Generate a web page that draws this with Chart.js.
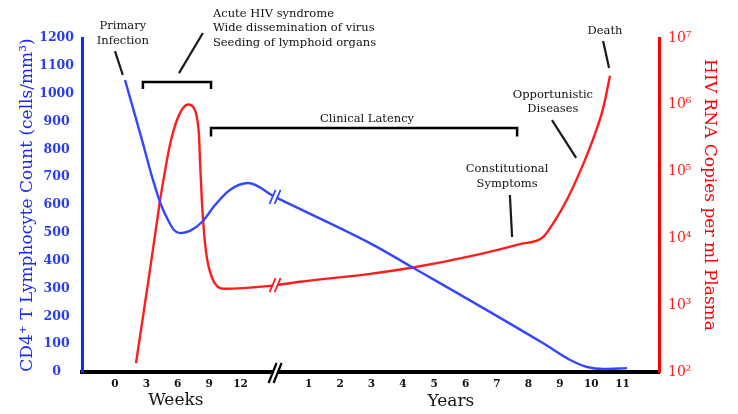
<!DOCTYPE html>
<html>
<head>
<meta charset="utf-8">
<script src="https://cdn.jsdelivr.net/npm/chart.js@4.4.1/dist/chart.umd.min.js"></script>
<style>
  html, body { margin: 0; padding: 0; background: #fff; }
  #wrap { width: 738px; height: 414px; }
</style>
</head>
<body>
<div id="wrap"><canvas id="chart"></canvas></div>
<script>
// Colours
const COLORS = {
  cd4: '#3347ff',
  cd4Axis: '#1428ff',
  cd4Text: '#2a3cf0',
  rna: '#ff1c1c',
  rnaAxis: '#ff0000',
  ink: '#111111',
};
const SERIF = '"DejaVu Serif", "Liberation Serif", serif';

// X axis: weeks first (position = week / 3), then years after the break
const weekTicks = [0, 3, 6, 9, 12];
const yearTicks = [1, 2, 3, 4, 5, 6, 7, 8, 9, 10, 11];
const YEAR_OFFSET = 5.17;   // year N sits at N + YEAR_OFFSET
const BREAK_AT = 5.1;       // where the "//" break sits
const xTickPos = weekTicks.map(w => w / 3).concat(yearTicks.map(y => y + YEAR_OFFSET));
const xTickLabels = weekTicks.map(String).concat(yearTicks.map(String));

// Right axis ticks (log)
const rnaTicks = [1e2, 1e3, 1e4, 1e5, 1e6, 1e7];
const rnaTickLabels = ['10²', '10³', '10⁴', '10⁵', '10⁶', '10⁷'];
const RNA_TITLE = 'HIV RNA Copies per ml Plasma';

// CD4+ T cell count (cells/mm3), x in axis positions
const cd4X = [0.32, 0.86, 1.21, 1.47, 1.69, 1.88, 2.07, 2.39, 2.77, 3.19, 3.66, 4.24, 5.10, 8.12, 9.40, 13.63, 14.50, 15.04, 15.55, 16.31];
const cd4Y = [1049, 834, 690, 600, 546, 510, 499, 507, 539, 600, 654, 679, 629, 463, 381, 104, 43, 18, 11, 14];

// HIV RNA copies per ml plasma
const rnaX = [0.67, 1.05, 1.34, 1.43, 1.59, 1.75, 2.01, 2.33, 2.52, 2.61, 2.68, 2.71, 2.77, 2.84, 2.93, 3.12, 3.44, 4.94, 5.89, 8.12, 9.40, 11.63, 12.90, 13.63, 14.02, 14.40, 14.81, 15.23, 15.55, 15.77];
const rnaY = [136, 2090, 18000, 35600, 99000, 250000, 650000, 1010000, 885000, 650000, 328000, 140000, 35600, 11900, 5080, 2400, 1760, 1950, 2240, 2950, 3610, 5830, 8200, 10400, 18600, 38200, 99000, 307000, 885000, 2730000];

// Annotation layout (x in axis positions, y in CD4 units)
const noteTexts = [
  ['Primary', 0.25, 1243, 'center'],
  ['Infection', 0.25, 1189, 'center'],
  ['Acute HIV syndrome', 3.12, 1286, 'left'],
  ['Wide dissemination of virus', 3.12, 1236, 'left'],
  ['Seeding of lymphoid organs', 3.12, 1182, 'left'],
  ['Clinical Latency', 8.03, 909, 'center'],
  ['Death', 15.61, 1225, 'center'],
  ['Opportunistic', 13.95, 995, 'center'],
  ['Diseases', 13.95, 945, 'center'],
  ['Constitutional', 12.49, 729, 'center'],
  ['Symptoms', 12.49, 675, 'center'],
];
const noteLeaders = [
  [0, 1153, 0.25, 1067],
  [2.80, 1218, 2.04, 1074],
  [15.55, 1189, 15.74, 1092],
  [13.92, 905, 14.69, 769],
  [12.58, 636, 12.65, 485],
];
const noteBrackets = [
  [0.89, 3.06, 1042, 1017],
  [3.06, 12.81, 877, 846],
];
const unitLabels = [['Weeks', 1.94, -101], ['Years', 10.70, -108]];

// y pixel of a drawn line at a given x pixel
function yOnLine(meta, px) {
  const pts = meta.data;
  for (let i = 1; i < pts.length; i++) {
    if (pts[i].x >= px) {
      const a = pts[i - 1], b = pts[i];
      const t = (px - a.x) / (b.x - a.x);
      return a.y + t * (b.y - a.y);
    }
  }
  return pts[pts.length - 1].y;
}

function breakMark(ctx, x, y, color, h, w, lw) {
  ctx.save();
  ctx.translate(x, y);
  ctx.fillStyle = '#fff';
  ctx.beginPath();
  ctx.moveTo(-w - 2.5, h);
  ctx.lineTo(w - 2.5, -h);
  ctx.lineTo(w + 2.5, -h);
  ctx.lineTo(-w + 2.5, h);
  ctx.closePath();
  ctx.fill();
  ctx.strokeStyle = color;
  ctx.lineWidth = lw;
  for (const dx of [-2.5, 2.5]) {
    ctx.beginPath();
    ctx.moveTo(dx - w, h);
    ctx.lineTo(dx + w, -h);
    ctx.stroke();
  }
  ctx.restore();
}

const notesPlugin = {
  id: 'notes',
  afterDatasetsDraw(chart) {
    const ctx = chart.ctx;
    const xs = chart.scales.x;
    const bx = xs.getPixelForValue(BREAK_AT);
    breakMark(ctx, bx, yOnLine(chart.getDatasetMeta(0), bx), COLORS.cd4, 7, 3, 1.8);
    breakMark(ctx, bx, yOnLine(chart.getDatasetMeta(1), bx), COLORS.rna, 7, 3, 1.8);
    breakMark(ctx, bx, chart.chartArea.bottom + 1, '#000', 10, 4, 2.2);
  },
  afterDraw(chart) {
    const ctx = chart.ctx;
    const X = u => chart.scales.x.getPixelForValue(u);
    const Y = v => chart.scales.y.getPixelForValue(v);
    ctx.save();
    ctx.fillStyle = COLORS.ink;
    ctx.textBaseline = 'middle';
    ctx.font = '11.5px ' + SERIF;
    noteTexts.forEach(([t, u, v, align]) => {
      ctx.textAlign = align;
      ctx.fillText(t, X(u), Y(v));
    });
    ctx.strokeStyle = '#1a1a1a';
    ctx.lineWidth = 2.2;
    noteLeaders.forEach(([u1, v1, u2, v2]) => {
      ctx.beginPath();
      ctx.moveTo(X(u1), Y(v1));
      ctx.lineTo(X(u2), Y(v2));
      ctx.stroke();
    });
    ctx.strokeStyle = '#000';
    ctx.lineWidth = 2.5;
    noteBrackets.forEach(([u1, u2, v, vt]) => {
      ctx.beginPath();
      ctx.moveTo(X(u1), Y(vt));
      ctx.lineTo(X(u1), Y(v));
      ctx.lineTo(X(u2), Y(v));
      ctx.lineTo(X(u2), Y(vt));
      ctx.stroke();
    });
    ctx.textAlign = 'center';
    ctx.font = '17px ' + SERIF;
    unitLabels.forEach(([t, u, v]) => ctx.fillText(t, X(u), Y(v)));

    // right axis title, read top to bottom, sitting a little above centre
    const r = chart.scales.y2;
    ctx.translate(r.right - 29, (chart.chartArea.top + chart.chartArea.bottom) / 2 - 10);
    ctx.rotate(Math.PI / 2);
    ctx.fillStyle = COLORS.rnaAxis;
    ctx.fillText(RNA_TITLE, 0, 0);
    ctx.restore();
  }
};

const ctx = document.getElementById('chart').getContext('2d');
new Chart(ctx, {
  type: 'line',
  data: {
    datasets: [
      {
        label: 'CD4+ T Lymphocyte Count',
        data: cd4X.map((x, i) => ({ x, y: cd4Y[i] })),
        yAxisID: 'y',
        borderColor: COLORS.cd4,
        borderWidth: 2.4,
        pointRadius: 0,
        fill: false,
        cubicInterpolationMode: 'monotone',
      },
      {
        label: RNA_TITLE,
        data: rnaX.map((x, i) => ({ x, y: rnaY[i] })),
        yAxisID: 'y2',
        borderColor: COLORS.rna,
        borderWidth: 2.4,
        pointRadius: 0,
        fill: false,
        cubicInterpolationMode: 'monotone',
      }
    ]
  },
  options: {
    responsive: true,
    maintainAspectRatio: false,
    animation: false,
    layout: { padding: { top: 38, left: 0, right: 0, bottom: 0 } },
    plugins: {
      legend: { display: false },
      tooltip: { enabled: false },
    },
    scales: {
      x: {
        type: 'linear',
        min: -1.05,
        max: 17.33,
        grid: { display: false, drawTicks: false },
        border: { color: '#000', width: 4 },
        afterBuildTicks: s => { s.ticks = xTickPos.map(v => ({ value: v })); },
        afterFit: s => { s.height = 42; },
        ticks: {
          autoSkip: false,
          maxRotation: 0,
          padding: 6,
          color: COLORS.ink,
          font: { family: SERIF, size: 10.5, weight: 'bold' },
          callback: (v, i) => xTickLabels[i],
        },
      },
      y: {
        position: 'left',
        min: 0,
        max: 1200,
        grid: { display: false, drawTicks: false },
        border: { color: COLORS.cd4Axis, width: 3 },
        afterFit: s => { s.width = 82; },
        ticks: {
          stepSize: 100,
          padding: 8,
          crossAlign: 'center',
          color: COLORS.cd4Text,
          font: { family: SERIF, size: 12.5, weight: 'bold' },
          callback: v => String(v),
        },
        title: {
          display: true,
          text: 'CD4⁺ T Lymphocyte Count (cells/mm³)',
          color: COLORS.cd4Axis,
          font: { family: SERIF, size: 17 },
          padding: { top: 17, bottom: 0 },
        },
      },
      y2: {
        type: 'logarithmic',
        position: 'right',
        min: 100,
        max: 1e7,
        grid: { display: false, drawTicks: false },
        border: { color: COLORS.rnaAxis, width: 3 },
        afterFit: s => { s.width = 79; },
        afterBuildTicks: s => { s.ticks = rnaTicks.map(v => ({ value: v })); },
        ticks: {
          autoSkip: false,
          padding: 9,
          color: COLORS.rna,
          font: { family: SERIF, size: 14 },
          callback: (v, i) => rnaTickLabels[i],
        },
      }
    }
  },
  plugins: [notesPlugin]
});
</script>
</body>
</html>
